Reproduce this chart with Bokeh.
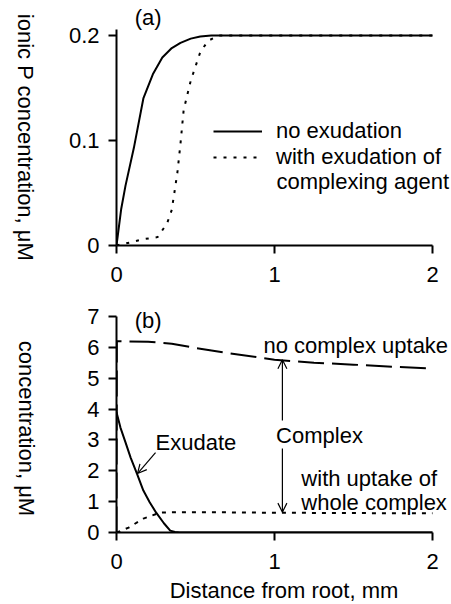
import math
from bokeh.plotting import figure
from bokeh.layouts import column, row
from bokeh.models import Label, Legend, LegendItem, Arrow, OpenHead, FixedTicker, Range1d
from bokeh.embed import file_html
from bokeh.resources import INLINE

# ---------- data ----------
# panel (a): ionic P concentration (uM) vs distance from root (mm)
xa_noex = [0, 0.03, 0.057, 0.11, 0.17, 0.23, 0.29, 0.35, 0.405, 0.47, 0.53, 0.6, 0.7, 0.8, 1.0, 1.5, 2.0]
ya_noex = [0, 0.035, 0.057, 0.093, 0.14, 0.163, 0.179, 0.188, 0.193, 0.197, 0.199, 0.2, 0.2, 0.2, 0.2, 0.2, 0.2]
xa_ex = [0, 0.089, 0.17, 0.26, 0.32, 0.35, 0.385, 0.405, 0.425, 0.47, 0.53, 0.58, 0.65, 0.8, 1.0, 1.5, 2.0]
ya_ex = [0, 0.003, 0.006, 0.008, 0.021, 0.034, 0.069, 0.097, 0.129, 0.157, 0.184, 0.195, 0.2, 0.2, 0.2, 0.2, 0.2]

# panel (b): concentrations (uM) vs distance (mm)
xb_nouptake = [0, 0.002, 0.2, 0.35, 0.5, 0.7, 1.0, 1.25, 1.5, 1.75, 2.0]
yb_nouptake = [0, 6.2, 6.18, 6.12, 5.98, 5.82, 5.6, 5.5, 5.44, 5.37, 5.31]
xb_exudate = [0, 0.025, 0.057, 0.09, 0.13, 0.17, 0.21, 0.25, 0.3, 0.34, 0.37, 0.4, 1.0, 2.0]
yb_exudate = [3.9, 3.4, 2.92, 2.42, 1.9, 1.36, 0.98, 0.65, 0.3, 0.06, 0.02, 0, 0, 0]
xb_uptake = [0, 0.002, 0.077, 0.17, 0.28, 0.5, 1.0, 1.5, 2.0]
yb_uptake = [0, 0.0, 0.16, 0.45, 0.65, 0.66, 0.64, 0.63, 0.62]

xticks = [0, 1, 2]
yticks_a = [0, 0.1, 0.2]
ytick_labels_a = ["0", "0.1", "0.2"]
yticks_b = [0, 1, 2, 3, 4, 5, 6, 7]

FONT = "Liberation Sans"
FS = "22px"


def style(p, yticks, xbounds, ybounds):
    p.xgrid.visible = False
    p.ygrid.visible = False
    p.outline_line_color = None
    p.background_fill_color = "white"
    p.border_fill_color = "white"
    p.xaxis.ticker = FixedTicker(ticks=xticks)
    p.yaxis.ticker = FixedTicker(ticks=yticks)
    p.xaxis.bounds = xbounds
    p.yaxis.bounds = ybounds
    for ax in (p.xaxis[0], p.yaxis[0]):
        ax.axis_line_width = 2
        ax.axis_line_color = "black"
        ax.major_tick_line_width = 2
        ax.major_tick_line_color = "black"
        ax.major_tick_in = 0
        ax.major_tick_out = 8
        ax.minor_tick_line_color = None
        ax.major_label_text_font = FONT
        ax.major_label_text_font_size = FS
        ax.major_label_text_color = "black"
        ax.axis_label_text_font = FONT
        ax.axis_label_text_font_size = FS
        ax.axis_label_text_font_style = "normal"
        ax.axis_label_text_color = "black"
    p.xaxis.major_label_standoff = 13
    p.yaxis.major_label_standoff = 9


def lbl(p, x, y, text, align="left", angle=0.0):
    p.add_layout(Label(x=x, y=y, text=text, text_font=FONT, text_font_size=FS,
                       text_color="black", text_align=align, text_baseline="middle",
                       angle=angle))


# ---------- panel (a) ----------
pa = figure(frame_width=335, frame_height=245, min_border_left=76, min_border_right=0,
            min_border_top=0, min_border_bottom=53,
            x_range=Range1d(0, 2.1203), y_range=Range1d(0, 0.2333),
            output_backend="svg", toolbar_location=None)
style(pa, yticks_a, (0, 2), (0, 0.2057))
pa.yaxis.major_label_overrides = {str(t): s for t, s in zip(yticks_a, ytick_labels_a)}

r1 = pa.line(xa_noex, ya_noex, line_color="black", line_width=2)
r2 = pa.line(xa_ex, ya_ex, line_color="black", line_width=2, line_dash="3 7")

leg = Legend(items=[LegendItem(label="no exudation", renderers=[r1]),
                    LegendItem(label="with exudation of", renderers=[r2])],
             location=(97, 75), orientation="vertical",
             glyph_width=49, glyph_height=20, label_height=20, spacing=-2,
             label_standoff=14, padding=0, margin=0,
             border_line_color=None, background_fill_alpha=0,
             label_text_font=FONT, label_text_font_size=FS, label_text_color="black")
pa.add_layout(leg)
lbl(pa, 1.013, 0.061, "complexing agent")
lbl(pa, 0.2, 0.217, "(a)", align="center")

# ---------- panel (b) ----------
pb = figure(frame_width=335, frame_height=234, min_border_left=76, min_border_right=0,
            min_border_top=0, min_border_bottom=72,
            x_range=Range1d(0, 2.1203), y_range=Range1d(0, 7.583),
            output_backend="svg", toolbar_location=None)
style(pb, yticks_b, (0, 2), (0, 7))
pb.xaxis.axis_label = "Distance from root, mm"
pb.xaxis.axis_label_standoff = 6

pb.line(xb_nouptake, yb_nouptake, line_color="black", line_width=2, line_dash="26 8")
pb.line(xb_exudate, yb_exudate, line_color="black", line_width=2)
pb.line(xb_uptake, yb_uptake, line_color="black", line_width=2, line_dash="4 6")

lbl(pb, 0.2, 6.87, "(b)", align="center")
lbl(pb, 0.93, 6.06, "no complex uptake")
lbl(pb, 1.01, 3.14, "Complex")
lbl(pb, 1.17, 1.75, "with uptake of")
lbl(pb, 1.17, 0.97, "whole complex")
lbl(pb, 0.247, 2.92, "Exudate")

head = dict(size=9, line_width=1.2, line_color="black")
pb.add_layout(Arrow(end=OpenHead(**head), x_start=1.05, y_start=3.63, x_end=1.05, y_end=5.6,
                    line_width=1.2, line_color="black"))
pb.add_layout(Arrow(end=OpenHead(**head), x_start=1.05, y_start=2.72, x_end=1.05, y_end=0.66,
                    line_width=1.2, line_color="black"))
pb.add_layout(Arrow(end=OpenHead(**head), x_start=0.247, y_start=2.59, x_end=0.133, y_end=1.91,
                    line_width=1.2, line_color="black"))

# ---------- strip holding the rotated y-axis titles ----------
H = 298 + 306
lf = figure(frame_width=40, frame_height=H, min_border=0,
            x_range=Range1d(0, 40), y_range=Range1d(0, H),
            x_axis_type=None, y_axis_type=None,
            output_backend="svg", toolbar_location=None)
lf.outline_line_color = None
lf.xgrid.visible = False
lf.ygrid.visible = False
lbl(lf, 25, H - 137, "ionic P concentration, \u03bcM", align="center", angle=-math.pi / 2)
lbl(lf, 26, H - 428, "concentration, \u03bcM", align="center", angle=-math.pi / 2)

layout = row(lf, column(pa, pb, spacing=0), spacing=0)
open("out.html", "w").write(file_html(layout, INLINE))
